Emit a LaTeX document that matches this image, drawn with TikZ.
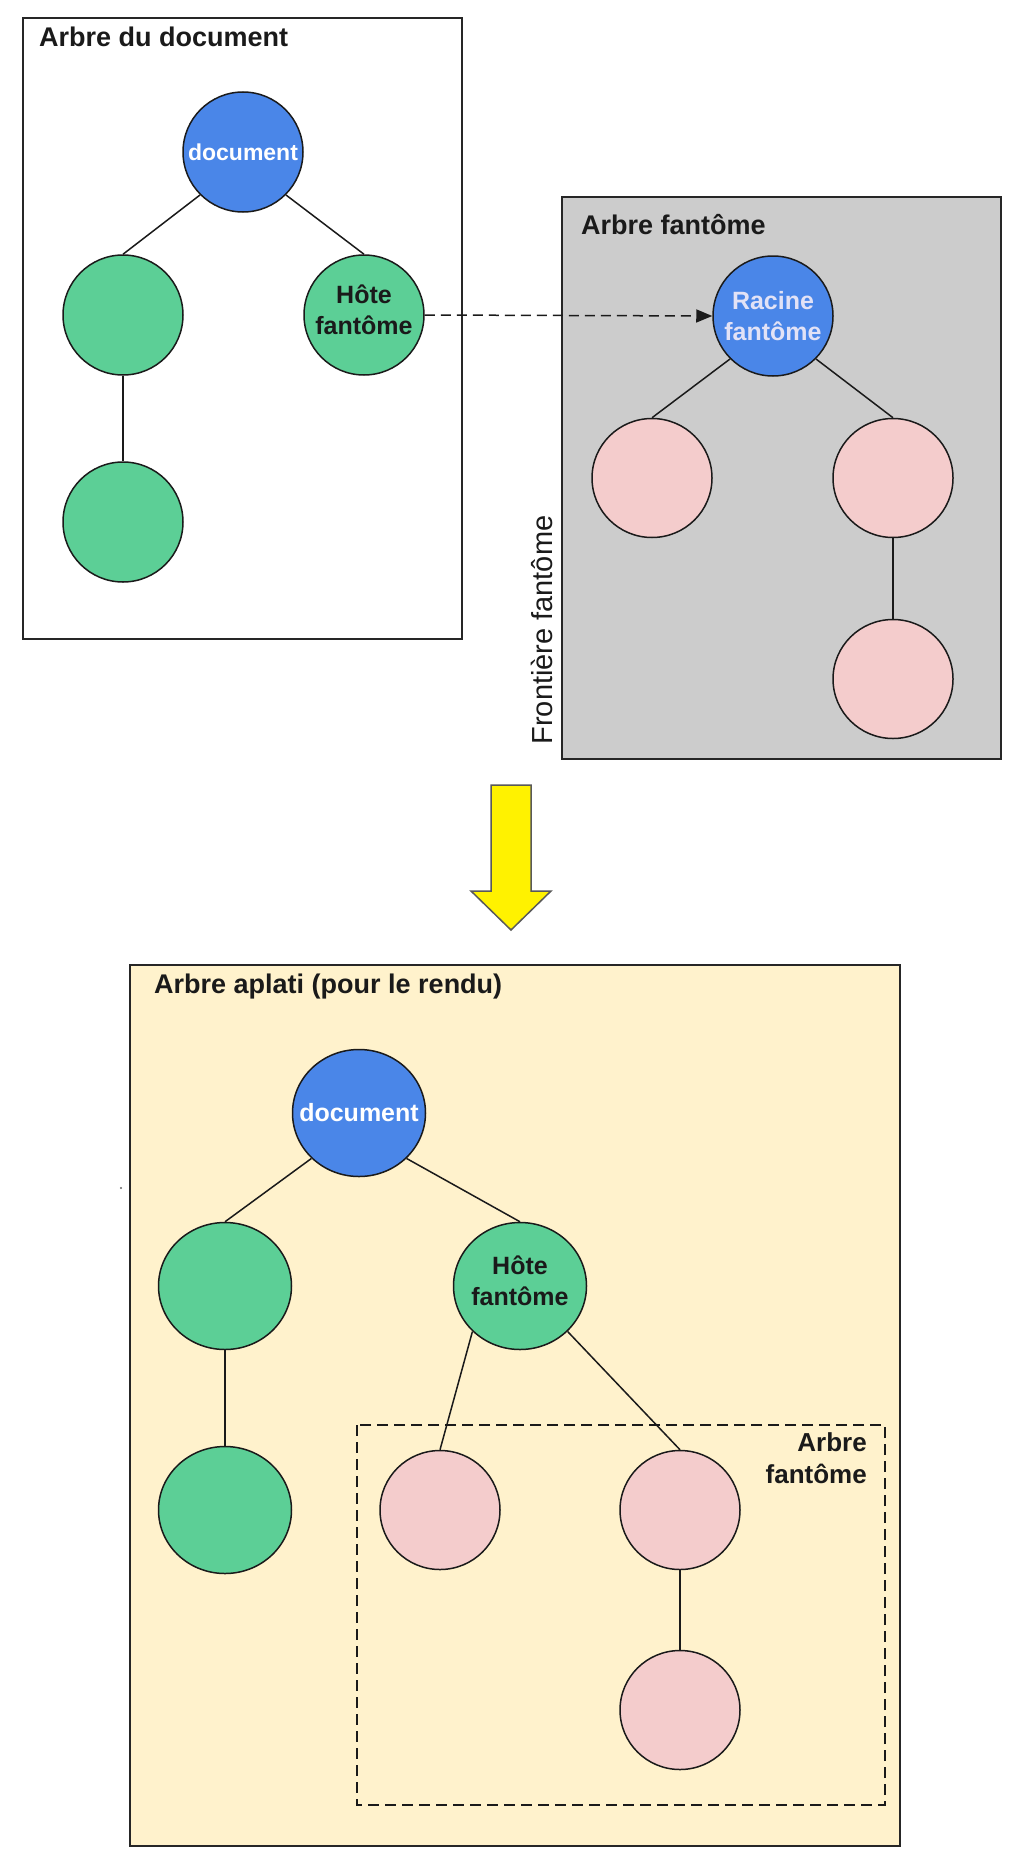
\documentclass[tikz,border=0pt]{standalone}
\usepackage{fontspec}
\setmainfont{Liberation Sans}
\usetikzlibrary{shapes.geometric,arrows.meta}
\definecolor{nblue}{HTML}{4A86E8}
\definecolor{ngreen}{HTML}{5CCF96}
\definecolor{npink}{HTML}{F4CCCC}
\definecolor{pgray}{HTML}{CCCCCC}
\definecolor{pbeige}{HTML}{FFF2CC}
\definecolor{rtext}{HTML}{E2E2F6}
\definecolor{ink}{HTML}{1A1A1A}
\definecolor{boxline}{HTML}{262626}
\begin{document}
\begin{tikzpicture}[x=1pt,y=-1pt,
  tnode/.style={circle,draw=ink,line width=1.5pt,inner sep=0pt,minimum size=120pt,
    font=\fontsize{25}{31}\selectfont\bfseries,align=center,text=ink},
  bnode/.style={ellipse,draw=ink,line width=1.5pt,inner sep=0pt,minimum width=133pt,minimum height=127pt},
  pnode/.style={ellipse,draw=ink,line width=1.5pt,inner sep=0pt,minimum width=120pt,minimum height=119pt,fill=npink},
  nodetext/.style={inner sep=0pt,font=\fontsize{25}{31}\selectfont\bfseries,align=center,text=ink},
  titletext/.style={inner sep=0pt,font=\fontsize{27}{31}\selectfont\bfseries,text=ink},
  edge/.style={draw=ink,line width=1.5pt},
  panel/.style={draw=boxline,line width=1.8pt},
  dashbox/.style={draw=ink,line width=1.5pt,dash pattern=on 11pt off 6pt}
]
\useasboundingbox (0,0) rectangle (1024,1865);
\fill[white] (0,0) rectangle (1024,1865);

% ---------- Arbre du document ----------
\draw[panel,fill=white] (23,18) rectangle (462,639);
\node[titletext,anchor=base west] (t1) at (39,47) {Arbre du document};
\node[tnode,fill=nblue,text=white,font=\fontsize{23}{28}\selectfont\bfseries] (doc1) at (243,152) {document};
\node[tnode,fill=ngreen] (ga) at (123,315) {};
\node[tnode,fill=ngreen] (hote1) at (364,315) {};
\node[nodetext,yshift=5pt] (hote1t) at (hote1) {Hôte\\fantôme};
\node[tnode,fill=ngreen] (gb) at (123,522) {};
\draw[edge] (doc1.south west) -- (ga.north);
\draw[edge] (doc1.south east) -- (hote1.north);
\draw[edge] (ga.south) -- (gb.north);

% ---------- Arbre fantome ----------
\draw[panel,fill=pgray] (562,197) rectangle (1001,759);
\node[titletext,anchor=base west] (t2) at (581,234) {Arbre fantôme};
\node[tnode,fill=nblue,text=rtext] (racine) at (773,316) {Racine\\fantôme};
\node[pnode] (pa) at (652,478) {};
\node[pnode] (pb) at (893,478) {};
\node[pnode] (pc) at (893,679) {};
\draw[edge] (racine.south west) -- (pa.north);
\draw[edge] (racine.south east) -- (pb.north);
\draw[edge] (pb.south) -- (pc.north);
\node[inner sep=0pt,rotate=90,font=\fontsize{29}{33}\selectfont,text=ink] (front) at (542,630) {Frontière fantôme};

\draw[edge,dash pattern=on 10pt off 6pt,-{Triangle[length=16pt,width=13pt]}] (hote1.east) -- (racine.west);

% ---------- yellow arrow ----------
\draw[fill=yellow,draw=black!65,line width=1.5pt,line join=miter]
  (491,785) -- (531,785) -- (531,891) -- (551,891) -- (511,930) -- (471,891) -- (491,891) -- cycle;

% ---------- Arbre aplati ----------
\draw[panel,fill=pbeige] (130,965) rectangle (900,1846);
\node[titletext,anchor=base west] (t3) at (154,993) {Arbre aplati (pour le rendu)};
\draw[dashbox] (357,1425) rectangle (885,1805);
\node[titletext,align=right,anchor=north east,font=\fontsize{26}{32}\selectfont\bfseries] (t4) at (867,1432) {Arbre\\fantôme};

\node[bnode,fill=nblue] (doc2) at (359,1113) {};
\node[nodetext,text=white] (doc2t) at (doc2) {document};
\node[bnode,fill=ngreen] (gc) at (225,1286) {};
\node[bnode,fill=ngreen] (hote2) at (520,1286) {};
\node[nodetext,yshift=5pt] (hote2t) at (hote2) {Hôte\\fantôme};
\node[bnode,fill=ngreen] (gd) at (225,1510) {};
\node[pnode] (pd) at (440,1510) {};
\node[pnode] (pe) at (680,1510) {};
\node[pnode] (pf) at (680,1710) {};
\draw[edge] (doc2.south west) -- (gc.north);
\draw[edge] (doc2.south east) -- (hote2.north);
\draw[edge] (gc.south) -- (gd.north);
\draw[edge] (hote2.south west) -- (pd.north);
\draw[edge] (hote2.south east) -- (pe.north);
\draw[edge] (pe.south) -- (pf.north);

\fill[black!60] (121,1188) circle (1.2pt);
\end{tikzpicture}
\end{document}
